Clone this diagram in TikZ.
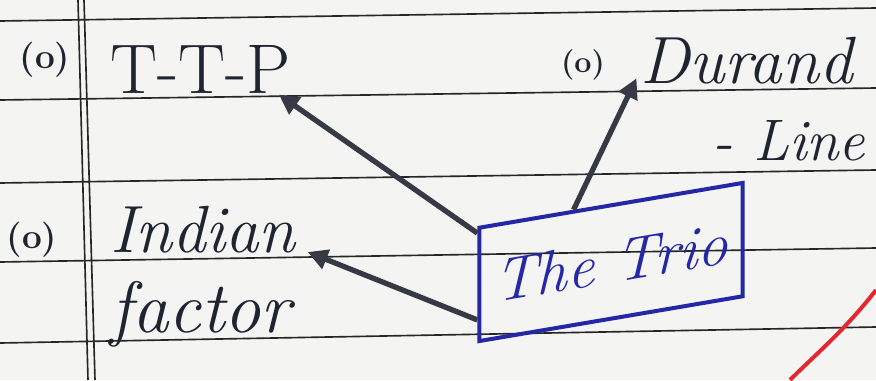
\documentclass[tikz,border=0pt]{standalone}
\usepackage{tikz}
\usetikzlibrary{arrows.meta,calc,positioning}
\definecolor{paper}{HTML}{F4F4F2}
\definecolor{rule}{HTML}{262626}
\definecolor{ink}{HTML}{1E2430}
\definecolor{pen}{HTML}{2427A6}
\definecolor{redpen}{HTML}{E3262F}
\tikzset{
 hand/.style={inner sep=0pt,text=ink,font=\fontsize{#1}{#1}\selectfont\itshape},
 num/.style={inner sep=0pt,text=ink,font=\fontsize{#1}{#1}\selectfont\bfseries},
 pointer/.style={ink!90,line width=4.5pt,-{Triangle[length=17pt,width=17pt]}},
 trio box/.style={draw=pen,line width=3.4pt,text=pen,minimum width=7.9cm,minimum height=3.4cm,
  inner sep=0pt,font=\fontsize{52pt}{52pt}\selectfont\itshape}
}
\begin{document}
\begin{tikzpicture}[x=0.03cm,y=0.03cm]
\useasboundingbox (0,0) rectangle (876,380);
\fill[paper] (0,0) rectangle (876,380);
% ruled paper
\foreach \yl/\yr in {359/372,280/292,197/210,118/132,37/53}
 \draw[rule,line width=1.4pt] (0,\yl) -- (876,\yr);
\draw[rule,line width=1.4pt] (78,380) -- (88,0) (84,380) -- (95,0);
% items
\node[num=30pt] (numa) at (45,320) {(o)};
\node[hand=60pt,font=\fontsize{60pt}{60pt}\selectfont,anchor=base west] (ttp) at (110,287) {T-T-P};
\node[num=26pt] (numb) at (583,315) {(o)};
\node[hand=57pt,anchor=base west] (durand) at (640,297) {Durand};
\node[hand=50pt,anchor=base west] (dline) at (712,220) {- Line};
\node[num=30pt] (numc) at (32,140) {(o)};
\node[hand=57pt,anchor=base west] (indian) at (110,128) {Indian};
\node[hand=62pt,anchor=base west] (factor) at (110,48) {factor};
\node[trio box,yslant=0.17] (trio) at (611,118) {The Trio};
% arrows
\draw[pointer,shorten >=2pt] ($(trio.north west)!0.06!(trio.south west)$) -- ([xshift=-12pt]ttp.south east);
\draw[pointer] ($(trio.north west)!0.36!(trio.north east)$) -- ([xshift=-3pt,yshift=4pt]durand.base west);
\draw[pointer] ($(trio.north west)!0.8!(trio.south west)$) -- ([xshift=10pt]indian.base east);
% red mark
\draw[redpen,line width=3.4pt] (790,0) .. controls (815,25) and (845,50) .. (876,90);
\end{tikzpicture}
\end{document}
